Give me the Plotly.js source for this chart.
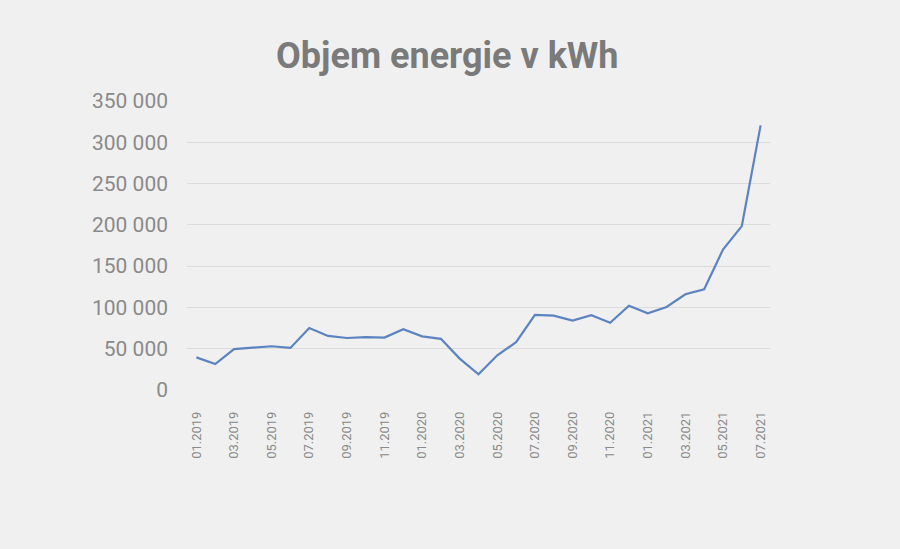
<!DOCTYPE html>
<html>
<head>
<meta charset="utf-8">
<script src="https://cdn.plot.ly/plotly-3.0.1.min.js"></script>
<style>html,body{margin:0;padding:0;background:#f0f0f0;}#chart{width:900px;height:549px;}</style>
</head>
<body>
<div id="chart"></div>
<script>
const months = ["01.2019","02.2019","03.2019","04.2019","05.2019","06.2019","07.2019","08.2019","09.2019","10.2019","11.2019","12.2019",
"01.2020","02.2020","03.2020","04.2020","05.2020","06.2020","07.2020","08.2020","09.2020","10.2020","11.2020","12.2020",
"01.2021","02.2021","03.2021","04.2021","05.2021","06.2021","07.2021"];
const energy = [39500, 31500, 49500, 51500, 53000, 51000, 75000, 65500, 63000, 64000, 63500, 73500,
65000, 62000, 38000, 19000, 42000, 58000, 91000, 90000, 84000, 90500, 81500, 102000,
93000, 100500, 116000, 122000, 170000, 198500, 320500];
const tickLabels = months.filter((m, i) => i % 2 === 0);
const yTicks = [0, 50000, 100000, 150000, 200000, 250000, 300000, 350000];
const yTickText = ["0","50 000","100 000","150 000","200 000","250 000","300 000","350 000"];

Plotly.newPlot('chart', [{
  x: months, y: energy, type: 'scatter', mode: 'lines',
  line: {color: '#5b83c1', width: 2.2}, hoverinfo: 'x+y'
}], {
  width: 900, height: 549,
  paper_bgcolor: '#f0f0f0', plot_bgcolor: '#f0f0f0',
  margin: {l: 187, r: 130, t: 101, b: 158.5},
  showlegend: false,
  title: {text: '<b>Objem energie v kWh</b>', x: 0.497, xanchor: 'center', y: 1 - 55/549, yanchor: 'middle', yref: 'container',
          font: {family: 'Roboto, sans-serif', size: 36, color: '#7a7a7a'}},
  xaxis: {type: 'category', range: [-0.5, 30.5], tickmode: 'array', tickvals: tickLabels, ticktext: tickLabels,
          tickangle: -90, showgrid: false, zeroline: false, showline: false, ticks: '',
          ticklabelstandoff: 18,
          tickfont: {family: 'Roboto, sans-serif', size: 13, color: '#8a8a8a'}},
  yaxis: {range: [0, 350000], tickmode: 'array', tickvals: yTicks, ticktext: yTickText,
          showgrid: true, gridcolor: '#dcdcdc', gridwidth: 1, zeroline: false, showline: false, ticks: '',
          ticklabelstandoff: 18,
          tickfont: {family: 'Roboto, sans-serif', size: 21, color: '#8a8a8a'}}
}, {displayModeBar: false, staticPlot: true});
</script>
</body>
</html>
